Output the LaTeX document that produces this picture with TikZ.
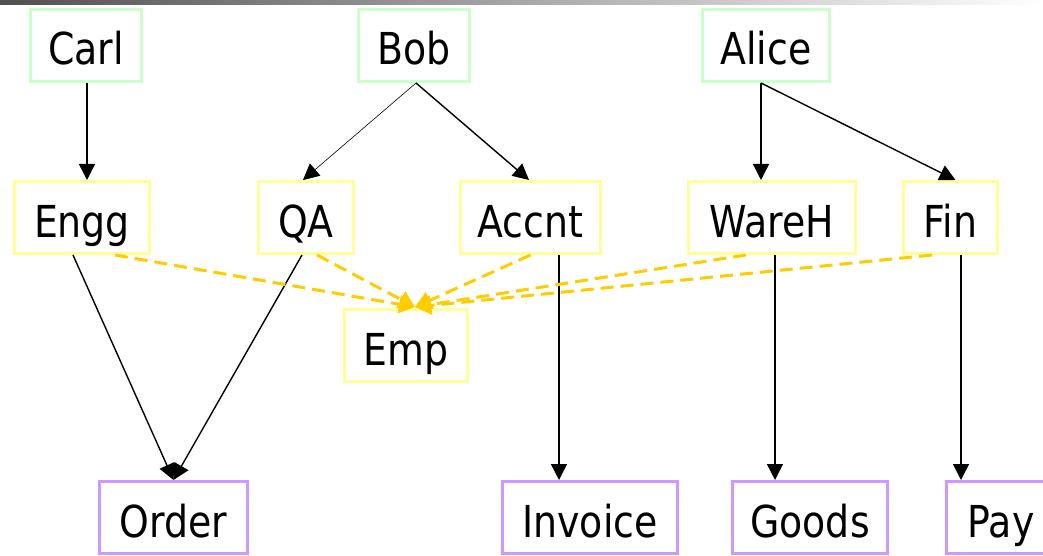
\documentclass[tikz,border=0pt]{standalone}
\usepackage{fontspec}
\setmainfont{DejaVu Sans}[FakeStretch=0.86]
\usetikzlibrary{arrows.meta}
\definecolor{boxgreen}{HTML}{CCFFCC}
\definecolor{boxyellow}{HTML}{FFFF99}
\definecolor{boxpurple}{HTML}{CC99FF}
\definecolor{dashorange}{HTML}{FFCC00}
\definecolor{bardark}{HTML}{505050}
\tikzset{
  ent/.style={draw, line width=3pt, inner sep=0pt, minimum height=72pt,
    text height=39pt, text depth=0pt, font=\fontsize{44}{48}\selectfont},
  gbox/.style={ent, draw=boxgreen},
  ybox/.style={ent, draw=boxyellow},
  pbox/.style={ent, draw=boxpurple},
  link/.style={line width=1.4pt, -{Triangle[length=16pt,width=16pt]}},
  thinlink/.style={line width=0.6pt, -{Triangle[length=16pt,width=16pt]}},
  dlink/.style={dashorange, line width=3pt, dash pattern=on 13pt off 7pt,
    -{Triangle[length=16pt,width=18pt]}}
}
\begin{document}
\begin{tikzpicture}[x=1pt,y=-1pt]
\useasboundingbox (0,0) rectangle (1043,556);
\clip (0,0) rectangle (1043,556);
\shade[left color=bardark, right color=white] (0,0) rectangle (1043,5);

% top row
\node[gbox, minimum width=111pt] (carl) at (86,45.5) {Carl};
\node[gbox, minimum width=111pt] (bob) at (414,45.5) {Bob};
\node[gbox, minimum width=127pt] (alice) at (766,45.5) {Alice};
% middle row
\node[ybox, minimum width=135pt] (engg) at (82,217.5) {Engg};
\node[ybox, minimum width=95pt] (qa) at (306,217.5) {QA};
\node[ybox, minimum width=140pt] (accnt) at (530.5,217.5) {Accnt};
\node[ybox, minimum width=167pt] (wareh) at (772,217.5) {WareH};
\node[ybox, minimum width=94pt] (fin) at (950.5,217.5) {Fin};
\node[ybox, minimum width=123pt] (emp) at (406,345.5) {Emp};
% bottom row
\node[pbox, minimum width=148pt] (order) at (173.5,517.5) {Order};
\node[pbox, minimum width=175pt] (invoice) at (590,517.5) {Invoice};
\node[pbox, minimum width=155pt] (goods) at (810,517.5) {Goods};
\node[pbox, minimum width=109pt] (pay) at (1001,517.5) {Pay};

% ownership arrows
\draw[link] ([xshift=1pt]carl.south) -- ([xshift=1pt]carl.south |- engg.north);
\draw[thinlink] ([xshift=2pt]bob.south) -- ([xshift=-3pt]qa.north);
\draw[link] ([xshift=2pt]bob.south) -- ([xshift=-1.5pt]accnt.north);
\draw[link] ([xshift=-5pt]alice.south) -- ([xshift=-5pt]alice.south |- wareh.north);
\draw[link] ([xshift=-5pt]alice.south) -- ([xshift=5pt]fin.north);

% data arrows
\draw[link] ([xshift=-9pt]engg.south) -- (order.north);
\draw[link] ([xshift=-4pt]qa.south) -- (order.north);
\draw[link] ([xshift=28.5pt]accnt.south) -- ([xshift=28.5pt]accnt.south |- invoice.north);
\draw[link] ([xshift=3pt]wareh.south) -- ([xshift=3pt]wareh.south |- goods.north);
\draw[link] ([xshift=10.5pt]fin.south) -- ([xshift=10.5pt]fin.south |- pay.north);

% dashed arrows to Emp
\coordinate (emptop) at ([xshift=9pt,yshift=1pt]emp.north);
\draw[dlink] ([xshift=33pt]engg.south) -- (emptop);
\draw[dlink] ([xshift=11pt]qa.south) -- (emptop);
\draw[dlink] (accnt.south) -- (emptop);
\draw[dlink] ([xshift=-26pt]wareh.south) -- (emptop);
\draw[dlink] ([xshift=-18.5pt]fin.south) -- (emptop);
\end{tikzpicture}
\end{document}
